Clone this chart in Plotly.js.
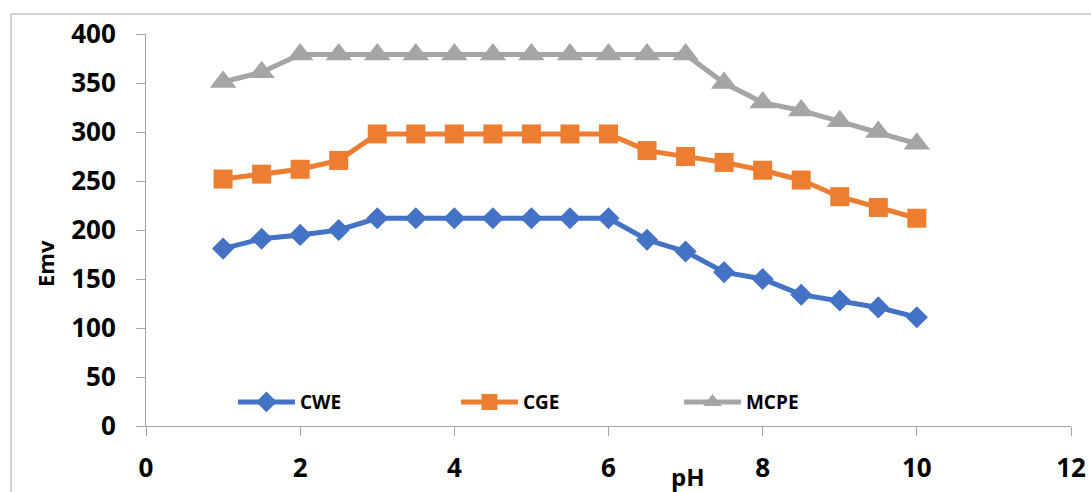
<!DOCTYPE html>
<html><head><meta charset="utf-8">
<script src="https://cdn.plot.ly/plotly-3.0.1.min.js"></script>
<style>html,body{margin:0;padding:0;background:#fff}#c{width:1091px;height:492px}</style>
</head><body><div id="c"></div>
<script>
var pH = [1, 1.5, 2, 2.5, 3, 3.5, 4, 4.5, 5, 5.5, 6, 6.5, 7, 7.5, 8, 8.5, 9, 9.5, 10];
var CWE = [181, 191, 195, 200, 212, 212, 212, 212, 212, 212, 212, 190, 178, 157, 150, 134, 128, 121, 111];
var CGE = [252, 257, 262, 271, 298, 298, 298, 298, 298, 298, 298, 281, 275, 269, 261, 251, 234, 223, 212];
var MCPE = [351, 361, 379, 379, 379, 379, 379, 379, 379, 379, 379, 379, 379, 350, 330, 322, 311, 300, 288];
var seriesNames = ["CWE", "CGE", "MCPE"];
var xTicks = [0, 2, 4, 6, 8, 10, 12];
var yTicks = [0, 50, 100, 150, 200, 250, 300, 350, 400];

var F = "'Open Sans', sans-serif";
var colors = ["#4472C4", "#ED7D31", "#A5A5A5"];
var symbols = ["diamond", "square", "triangle-up"];
var sizes = [17, 19, 23];
var data = [CWE, CGE, MCPE].map(function (ys, i) {
  return {
    x: pH, y: ys, name: seriesNames[i], type: "scatter", mode: "lines+markers",
    line: {color: colors[i], width: 5},
    marker: {symbol: symbols[i], size: sizes[i], color: colors[i]},
    cliponaxis: false
  };
});
var layout = {
  width: 1091, height: 492,
  margin: {l: 146, r: 20, t: 34, b: 66},
  paper_bgcolor: "#fff", plot_bgcolor: "#fff",
  showlegend: true,
  legend: {orientation: "h", x: 0.094, y: 0.061, xanchor: "left", yanchor: "middle",
    font: {family: F, size: 19, color: "#000", weight: 700},
    entrywidth: 151, entrywidthmode: "pixels", itemwidth: 57, bgcolor: "rgba(0,0,0,0)"},
  xaxis: {range: [0, 12], tickvals: xTicks, ticks: "outside", ticklen: 9, tickcolor: "#A6A6A6",
    showline: true, linecolor: "#A6A6A6", linewidth: 1, showgrid: false, zeroline: false,
    ticklabelstandoff: 10,
    tickfont: {family: F, size: 26, color: "#000", weight: 700}, fixedrange: true},
  yaxis: {range: [0, 400], tickvals: yTicks, ticks: "outside", ticklen: 9, tickcolor: "#A6A6A6",
    showline: true, linecolor: "#A6A6A6", linewidth: 1, showgrid: false, zeroline: false,
    ticklabelstandoff: 15,
    tickfont: {family: F, size: 26, color: "#000", weight: 700}, fixedrange: true},
  annotations: [
    {text: "pH", xref: "paper", yref: "paper", x: (688 - 146) / 925, y: (426 - 476) / 392,
      xanchor: "center", yanchor: "middle", showarrow: false,
      font: {family: F, size: 24, color: "#000", weight: 700}},
    {text: "Emv", xref: "paper", yref: "paper", x: (45 - 146) / 925, y: (426 - 264) / 392,
      xanchor: "center", yanchor: "middle", showarrow: false, textangle: -90,
      font: {family: F, size: 22, color: "#000", weight: 700}}
  ],
  shapes: [
    {type: "rect", xref: "paper", yref: "paper", x0: (11 - 146) / 925, x1: 1.2, y0: (426 - 14) / 392, y1: -0.5,
      line: {color: "#A6A6A6", width: 1}, layer: "below"}
  ]
};
Plotly.newPlot("c", data, layout, {displayModeBar: false, staticPlot: true});
</script></body></html>
